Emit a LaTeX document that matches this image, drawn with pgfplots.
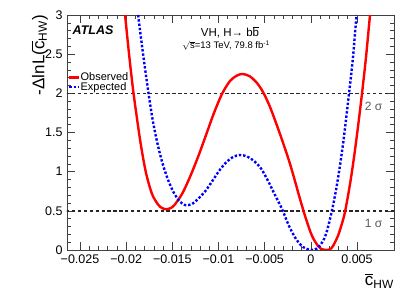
\documentclass[border=0pt]{standalone}
\usepackage{amsmath}
\usepackage{fontspec}
\setmainfont{Liberation Sans}
\usepackage{pgfplots}
\pgfplotsset{compat=1.18}
\definecolor{sigmagray}{RGB}{90,90,90}
\begin{document}
\begin{tikzpicture}
\useasboundingbox (-67pt,-49pt) rectangle (348pt,250pt);
\begin{axis}[
  at={(0pt,0pt)}, anchor=south west,
  scale only axis, width=327pt, height=235pt,
  xmin=-0.02641, xmax=0.00901, ymin=0, ymax=3,
  scaled x ticks=false, scaled y ticks=false,
  xtick={-0.025,-0.02,-0.015,-0.01,-0.005,0,0.005},
  xticklabels={−0.025,−0.02,−0.015,−0.01,−0.005,0,0.005},
  ytick={0,0.5,1,1.5,2,2.5,3},
  yticklabels={0,0.5,1,1.5,2,2.5,3},
  minor x tick num=4, minor y tick num=4,
  tick align=inside, major tick length=8pt, minor tick length=4pt,
  tick style={black!75, line width=0.6pt},
  axis line style={black!75, line width=0.8pt},
  ticklabel style={font=\fontsize{12.5}{14}\selectfont},
  xticklabel style={yshift=-1pt},
  yticklabel style={xshift=-1pt},
  xlabel={$\overline{\text{c}}_{\text{HW}}$},
  xlabel style={at={(rel axis cs:1,0)}, anchor=north east, yshift=-23pt, inner sep=0pt, font=\fontsize{17}{20}\selectfont},
  ylabel={-ΔlnL($\overline{\text{c}}_{\text{HW}}$)},
  ylabel style={at={(rel axis cs:-0.0581,1)}, anchor=south east, inner sep=0pt, font=\fontsize{17}{20}\selectfont},
  legend style={at={(rel axis cs:0.003,0.755)}, anchor=north west, draw=none, fill=none,
    font=\fontsize{11}{12}\selectfont, inner sep=0pt, row sep=0pt, nodes={inner sep=0pt},
    /tikz/every even column/.append style={column sep=1.5pt}},
  legend cell align=left,
  legend image code/.code={\draw[#1] (0pt,0pt) -- (10pt,0pt);},
  clip=true,
]
\addplot[black!85, line width=1.5pt, dash pattern=on 3.3pt off 2.6pt, forget plot] coordinates {(-0.0265,0.5) (0.0091,0.5)};
\addplot[black!85, line width=1.5pt, dash pattern=on 3.3pt off 2.6pt, forget plot] coordinates {(-0.0265,2) (0.0091,2)};
\addplot[red, line width=2.4pt, smooth] coordinates {
(-0.02012,3.0) (-0.01969,2.502) (-0.01925,2.043) (-0.01882,1.672) (-0.01839,1.328)
(-0.01785,0.983) (-0.01720,0.715) (-0.01655,0.581) (-0.01612,0.536) (-0.01569,0.520)
(-0.01525,0.532) (-0.01482,0.568) (-0.01395,0.715) (-0.01309,0.932) (-0.01222,1.187)
(-0.01135,1.468) (-0.01049,1.749) (-0.00962,1.992) (-0.00875,2.158) (-0.00799,2.228)
(-0.00734,2.247) (-0.00658,2.215) (-0.00583,2.132) (-0.00518,2.017) (-0.00442,1.826)
(-0.00334,1.481) (-0.00225,1.098) (-0.00117,0.651) (-0.00052,0.396) (0.00013,0.180)
(0.00078,0.052) (0.00121,0.009) (0.00165,0.0) (0.00208,0.009) (0.00241,0.052)
(0.00295,0.183) (0.00338,0.341) (0.00371,0.489) (0.00425,0.845) (0.00468,1.185)
(0.00511,1.573) (0.00555,2.004) (0.00598,2.464) (0.00641,3.0)
};
\addlegendentry{Observed}
\addplot[blue, line width=2.4pt, dash pattern=on 2.4pt off 1.9pt, smooth] coordinates {
(-0.01871,3.0) (-0.01817,2.502) (-0.01758,2.0) (-0.01709,1.634) (-0.01655,1.328)
(-0.01601,1.085) (-0.01546,0.894) (-0.01491,0.747) (-0.01437,0.645) (-0.01394,0.594)
(-0.01351,0.571) (-0.01286,0.587) (-0.01222,0.651) (-0.01146,0.747) (-0.01070,0.875)
(-0.00994,1.009) (-0.00918,1.117) (-0.00843,1.187) (-0.00767,1.213) (-0.00691,1.194)
(-0.00615,1.136) (-0.00539,1.040) (-0.00463,0.881) (-0.00388,0.702) (-0.00312,0.523)
(-0.00236,0.306) (-0.00160,0.140) (-0.00084,0.038) (0.0,0.0) (0.00067,0.019)
(0.00132,0.115) (0.00175,0.243) (0.00226,0.489) (0.00270,0.746) (0.00313,1.055)
(0.00356,1.417) (0.00414,2.0) (0.00454,2.426) (0.00495,3.0)
};
\addlegendentry{Expected}
\node[anchor=west, inner sep=0pt, font=\bfseries\itshape\fontsize{12.5}{14}\selectfont] at (axis cs:-0.02581,2.80) {ATLAS};
\node[inner sep=0pt, font=\fontsize{11.5}{13}\selectfont] at (axis cs:-0.00875,2.78) {VH, H→ b$\overline{\text{b}}$};
\node[inner sep=0pt, font=\fontsize{9.5}{11}\selectfont] at (axis cs:-0.00918,2.61) {$\sqrt{\text{s}}$=13 TeV, 79.8 fb$^{\text{-1}}$};
\node[inner sep=0pt, text=sigmagray, font=\fontsize{12}{14}\selectfont] at (axis cs:0.0068,1.83) {2 σ};
\node[inner sep=0pt, text=sigmagray, font=\fontsize{12}{14}\selectfont] at (axis cs:0.0068,0.345) {1 σ};
\end{axis}
\end{tikzpicture}
\end{document}
